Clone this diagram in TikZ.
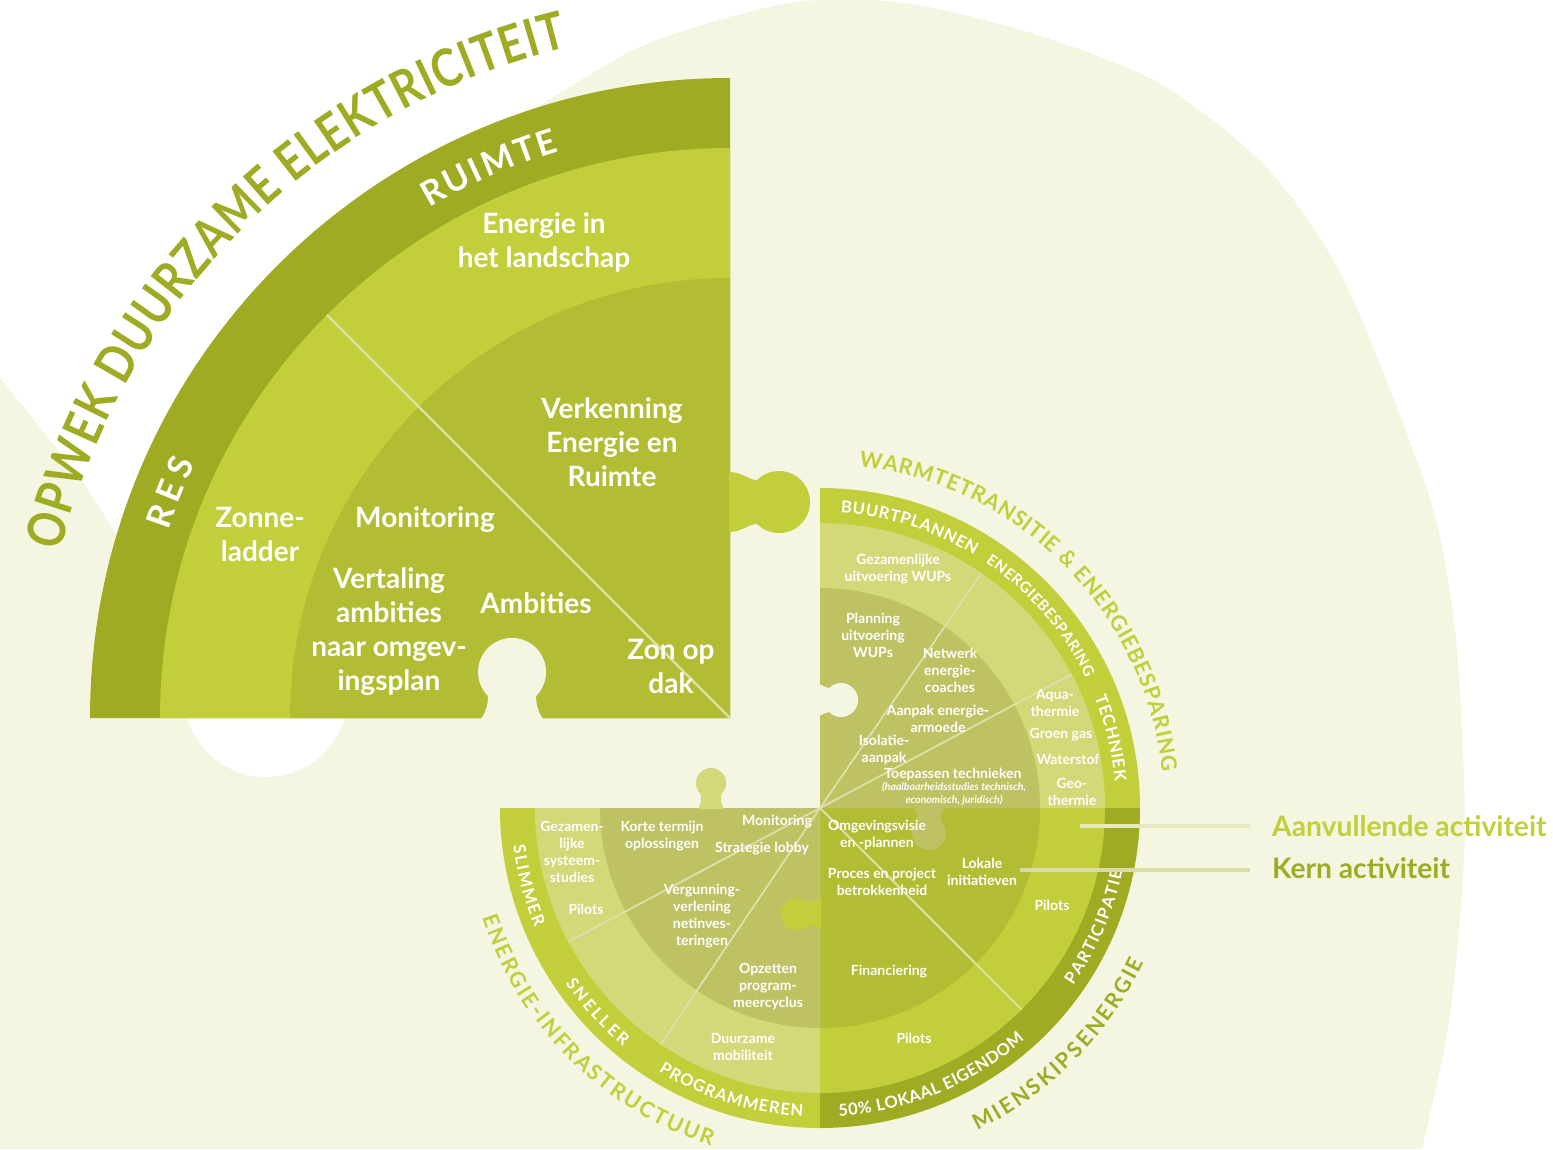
\documentclass[tikz,border=0pt]{standalone}
\usepackage{fontspec}
\setmainfont{Lato}
\newfontfamily\opwekf{Lato}[FakeStretch=0.83]
\usetikzlibrary{decorations.text}
\definecolor{bgpale}{HTML}{F4F6E2}
\definecolor{olive}{HTML}{A0AB24}
\definecolor{lime}{HTML}{C2CE3A}
\definecolor{midg}{HTML}{B3BD33}
\definecolor{paleg}{HTML}{D3D878}
\definecolor{greyg}{HTML}{BEC263}
\definecolor{divl}{HTML}{DDE0A8}
\definecolor{legA}{HTML}{E6E9BE}
\definecolor{legK}{HTML}{D9DCA4}
\newcommand\myfOut{\bfseries\fontsize{21.5}{22}\selectfont}
\newcommand\myfBand{\bfseries\fontsize{16.5}{17}\selectfont}
\newcommand\myfBandS{\bfseries\fontsize{15}{16}\selectfont}
\newcommand\myfQuart{\bfseries\fontsize{34}{34}\selectfont}
\newcommand\myfOpwek{\opwekf\bfseries\fontsize{52}{52}\selectfont}
\tikzset{
  qlab/.style={text=white, font=\bfseries\fontsize{28}{34}\selectfont, align=center, inner sep=0pt},
  slab/.style={text=white, font=\bfseries\fontsize{14}{17}\selectfont, align=center, inner sep=0pt},
  divider/.style={draw=divl, line width=1.8pt},
  arctext/.style n args={3}{decorate, decoration={text along path, text={|#1|#2{\hbox{}}}, text align={fit to path}, text color=#3}},
}
\begin{document}
\begin{tikzpicture}[x=1pt,y=-1pt]
\useasboundingbox (0,0) rectangle (1553,1149);
\fill[white] (0,0) rectangle (1553,1149);
% pale background
\fill[bgpale] plot[smooth] coordinates {(0,378) (50,440) (85,486) (120,540)}
  -- (525,115)
  -- plot[smooth] coordinates {(549,100) (649,43) (790,3) (904,3) (1031,33) (1159,83) (1266,167) (1337,267) (1394,400) (1436,520) (1456,639) (1464,783) (1463,878) (1449,1022) (1422,1149)}
  -- (0,1149) -- cycle;
\fill[white] (266,695) circle[radius=82];

% ===== quarter (opwek) =====
\fill[olive] (730,718) -- (90,718) arc[start angle=180,end angle=270,radius=640] -- cycle;
\fill[lime] (730,718) -- (160,718) arc[start angle=180,end angle=270,radius=570] -- cycle;
\fill[midg] (730,718) -- (290,718) arc[start angle=180,end angle=270,radius=440] -- cycle;
% knob right
\fill[lime] (729,472) .. controls (742,472) and (748,480) .. (757.1,480.1) arc[start angle=225,end angle=495,radius=31] .. controls (748,524) and (742,532) .. (729,532) -- cycle;
% hole bottom
\fill[bgpale] (481,719) .. controls (486,712) and (488,704) .. (488,696) arc[start angle=135,end angle=405,radius=34] .. controls (536,704) and (538,712) .. (543,719) -- cycle;
\coordinate (qc) at (730,718);
\coordinate (qd) at ([shift={(730,718)}]225:570);
\draw[divider, line width=2.2pt] (qc) -- (qd);

% ===== lower circle =====
\coordinate (cc) at (820,808);
% top-right
\fill[lime] (820,808) -- (1140,808) arc[start angle=0,end angle=-90,radius=320] -- cycle;
\fill[paleg] (820,808) -- (1105,808) arc[start angle=0,end angle=-90,radius=285] -- cycle;
\fill[greyg] (820,808) -- (1040,808) arc[start angle=0,end angle=-90,radius=220] -- cycle;
% bottom-right
\fill[olive] (820,808) -- (1140,808) arc[start angle=0,end angle=90,radius=320] -- cycle;
\fill[lime] (820,808) -- (1105,808) arc[start angle=0,end angle=90,radius=285] -- cycle;
\fill[midg] (820,808) -- (1040,808) arc[start angle=0,end angle=90,radius=220] -- cycle;
% bottom-left
\fill[lime] (820,808) -- (820,1128) arc[start angle=90,end angle=180,radius=320] -- cycle;
\fill[paleg] (820,808) -- (820,1093) arc[start angle=90,end angle=180,radius=285] -- cycle;
\fill[greyg] (820,808) -- (820,1028) arc[start angle=90,end angle=180,radius=220] -- cycle;
% knobs and holes
\fill[paleg] (698,809) .. controls (702,803) and (701,798) .. (700.4,793.6) arc[start angle=135,end angle=405,radius=15] .. controls (721,798) and (720,803) .. (724,809) -- cycle;
\fill[bgpale] (819,684) .. controls (824,686) and (826,688) .. (829,688) arc[start angle=225,end angle=495,radius=17] .. controls (826,712) and (824,714) .. (819,716) -- cycle;
\fill[greyg] (945,807) .. controls (941,812) and (941,816) .. (941,821) arc[start angle=-45,end angle=225,radius=17] .. controls (917,816) and (917,812) .. (913,807) -- cycle;
\fill[lime] (821,929) .. controls (815,927) and (811,926) .. (808.3,925.3) arc[start angle=45,end angle=315,radius=16] .. controls (811,902) and (815,901) .. (821,899) -- cycle;
% dividers
\coordinate (d1) at ([shift={(820,808)}]-55.5:285);
\coordinate (d2) at ([shift={(820,808)}]-28:285);
\coordinate (d3) at ([shift={(820,808)}]45:285);
\coordinate (d4) at ([shift={(820,808)}]124:285);
\coordinate (d5) at ([shift={(820,808)}]152:285);
\draw[divider] (cc) -- (d1);
\draw[divider] (cc) -- (d2);
\draw[divider] (cc) -- (d3);
\draw[divider] (cc) -- (d4);
\draw[divider] (cc) -- (d5);

% ===== arc labels =====
\path[arctext={\myfOpwek}{OPWEK DUURZAME ELEKTRICITEIT}{olive}] ([shift={(730,718)}]194:690) arc[start angle=194,end angle=256.5,radius=690];
\path[arctext={\myfQuart}{RUIMTE}{white}] ([shift={(730,718)}]239.5:592) arc[start angle=239.5,end angle=253.5,radius=592];
\path[arctext={\myfQuart}{RES}{white}] ([shift={(730,718)}]198.5:592) arc[start angle=198.5,end angle=206,radius=592];

\path[arctext={\myfOut}{WARMTETRANSITIE {\&} ENERGIEBESPARING}{lime}] ([shift={(820,808)}]276.5:344) arc[start angle=276.5,end angle=354,radius=344];
\path[arctext={\myfBand}{BUURTPLANNEN}{white}] ([shift={(820,808)}]274:296) arc[start angle=274,end angle=301.5,radius=296];
\path[arctext={\myfBandS}{ENERGIEBESPARING}{white}] ([shift={(820,808)}]304:296) arc[start angle=304,end angle=334,radius=296];
\path[arctext={\myfBand}{TECHNIEK}{white}] ([shift={(820,808)}]338:296) arc[start angle=338,end angle=355,radius=296];
\path[arctext={\myfBand}{PARTICIPATIE}{white}] ([shift={(820,808)}]35:309) arc[start angle=35,end angle=11.5,radius=309];
\path[arctext={\myfBand}{50{\%} LOKAAL EIGENDOM}{white}] ([shift={(820,808)}]86.5:309) arc[start angle=86.5,end angle=48.5,radius=309];
\path[arctext={\myfOut}{MIENSKIPSENERGIE}{olive}] ([shift={(820,808)}]64:359) arc[start angle=64,end angle=25,radius=359];
\path[arctext={\myfBand}{SLIMMER}{white}] ([shift={(820,808)}]173:309) arc[start angle=173,end angle=157,radius=309];
\path[arctext={\myfBand}{SNELLER}{white}] ([shift={(820,808)}]145.5:309) arc[start angle=145.5,end angle=129,radius=309];
\path[arctext={\myfBand}{PROGRAMMEREN}{white}] ([shift={(820,808)}]121.5:309) arc[start angle=121.5,end angle=93,radius=309];
\path[arctext={\myfOut}{ENERGIE-INFRASTRUCTUUR}{lime}] ([shift={(820,808)}]162:355) arc[start angle=162,end angle=107.5,radius=355];

% ===== quarter texts =====
\node[qlab] (qa) at (544,242) {Energie in\\het landschap};
\node[qlab] (qb) at (612,442) {Verkenning\\Energie en\\Ruimte};
\node[qlab] (qz) at (260,534) {Zonne-\\ladder};
\node[qlab] (qm) at (425,520) {Monitoring};
\node[qlab] (qv) at (389,632) {Vertaling\\ambities\\naar omgev-\\ingsplan};
\node[qlab] (qam) at (536,603) {Ambities};
\node[qlab] (qzon) at (671,666) {Zon op\\dak};

% ===== top-right texts =====
\node[slab] (w1) at (898,569) {Gezamenlijke\\uitvoering WUPs};
\node[slab] (w2) at (873,635) {Planning\\uitvoering\\WUPs};
\node[slab] (w3) at (950,670) {Netwerk\\energie-\\coaches};
\node[slab] (w4) at (1055,703) {Aqua-\\thermie};
\node[slab] (w5) at (938,719) {Aanpak energie-\\armoede};
\node[slab] (w6) at (1061,735) {Groen gas};
\node[slab] (w7) at (884,750) {Isolatie-\\aanpak};
\node[slab] (w8) at (1068,759) {Waterstof};
\node[slab] (w9) at (953,774) {Toepassen technieken};
\node[slab, font=\bfseries\itshape\fontsize{10.5}{13}\selectfont] (w10) at (954,794) {(haalbaarheidsstudies technisch,\\economisch, juridisch)};
\node[slab] (w11) at (1072,792) {Geo-\\thermie};

% ===== bottom-right texts =====
\node[slab] (m1) at (877,835) {Omgevingsvisie\\en -plannen};
\node[slab] (m2) at (882,882) {Proces en project\\betrokkenheid};
\node[slab] (m3) at (982,872) {Lokale\\initiatieven};
\node[slab] (m4) at (1052,905) {Pilots};
\node[slab] (m5) at (889,972) {Financiering};
\node[slab] (m6) at (914,1038) {Pilots};

% ===== bottom-left texts =====
\node[slab] (e1) at (572,852) {Gezamen-\\lijke\\systeem-\\studies};
\node[slab] (e2) at (586,909) {Pilots};
\node[slab] (e3) at (662,836) {Korte termijn\\oplossingen};
\node[slab] (e4) at (777,822) {Monitoring};
\node[slab] (e5) at (762,849) {Strategie lobby};
\node[slab] (e6) at (702,916) {Vergunning-\\verlening\\netinves-\\teringen};
\node[slab] (e7) at (768,987) {Opzetten\\program-\\meercyclus};
\node[slab] (e8) at (743,1047) {Duurzame\\mobiliteit};

% ===== legend =====
\coordinate (aS) at (1080,826);
\coordinate (aE) at (1250,826);
\coordinate (kS) at (1020,870);
\coordinate (kE) at (1250,870);
\draw[legA, line width=4pt] (aS) -- (aE);
\draw[legK, line width=4pt] (kS) -- (kE);
\node[anchor=west, text=lime, font=\bfseries\fontsize{28.2}{29}\selectfont, inner sep=0pt] (aanv) at (1272,826) {Aanvullende activiteit};
\node[anchor=west, text=olive, font=\bfseries\fontsize{28.2}{29}\selectfont, inner sep=0pt] (kern) at (1272,868) {Kern activiteit};
\end{tikzpicture}
\end{document}
